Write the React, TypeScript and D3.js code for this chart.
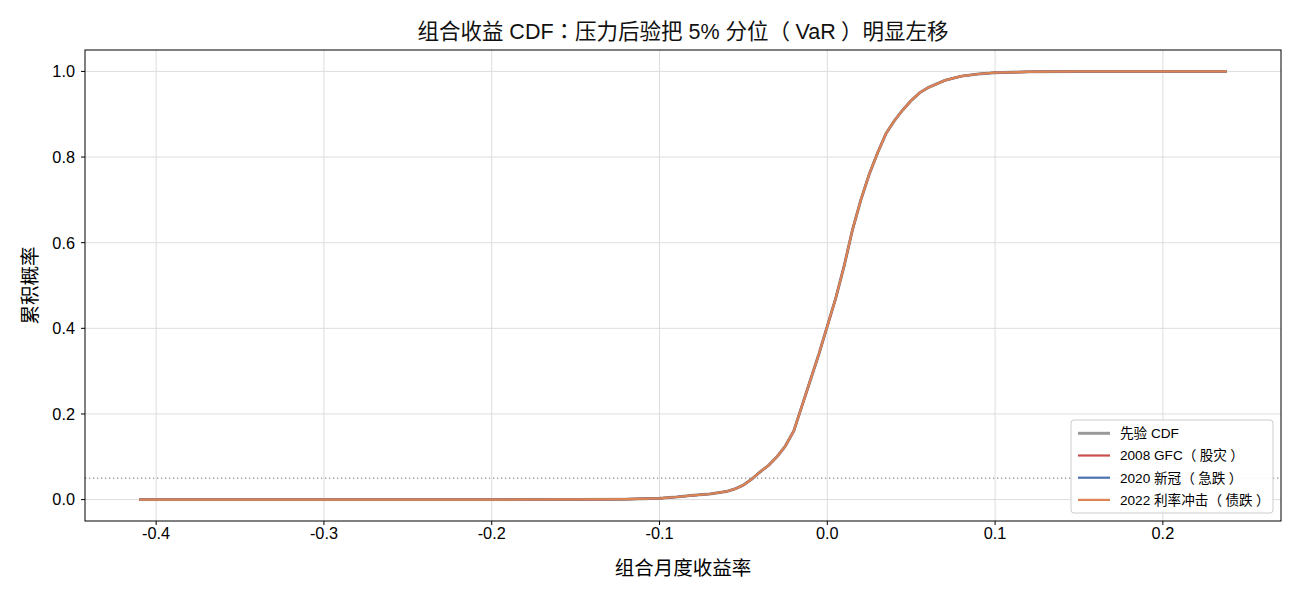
import React from 'react';
import * as d3 from 'd3';

// monthly portfolio return grid (x) and cumulative probability
const returns = [
  -0.41, -0.3, -0.2, -0.15, -0.12, -0.1, -0.09, -0.08, -0.07, -0.06, -0.055, -0.05,
  -0.045, -0.04, -0.035, -0.03, -0.025, -0.02, -0.015, -0.01, -0.005, 0.0, 0.005,
  0.01, 0.015, 0.02, 0.025, 0.03, 0.035, 0.04, 0.045, 0.05, 0.055, 0.06, 0.07, 0.08,
  0.09, 0.1, 0.12, 0.15, 0.2, 0.238,
];

const priorCdf = [
  0, 0, 0, 0.0005, 0.001, 0.003, 0.006, 0.01, 0.013, 0.019, 0.025, 0.034,
  0.048, 0.065, 0.08, 0.1, 0.125, 0.16, 0.22, 0.28, 0.34, 0.405, 0.47,
  0.545, 0.63, 0.7, 0.76, 0.81, 0.855, 0.885, 0.91, 0.932, 0.95, 0.962, 0.979, 0.989,
  0.994, 0.997, 0.999, 1.0, 1.0, 1.0,
];

// the stressed posteriors sit on top of the prior at this scale
const gfc2008Cdf = [...priorCdf];
const covid2020Cdf = [...priorCdf];
const rates2022Cdf = [...priorCdf];

const seriesNames = ['先验 CDF', '2008 GFC（股灾）', '2020 新冠（急跌）', '2022 利率冲击（债跌）'];
const seriesColors = ['#999999', '#c9504f', '#4c72b0', '#dd8452'];
const seriesWidths = [3, 2.2, 2.2, 2.2];
const seriesValues = [priorCdf, gfc2008Cdf, covid2020Cdf, rates2022Cdf];

const xTicks = [-0.4, -0.3, -0.2, -0.1, 0.0, 0.1, 0.2];
const yTicks = [0.0, 0.2, 0.4, 0.6, 0.8, 1.0];
const varLevel = 0.05;

const W = 1300;
const H = 598;
const margin = { top: 50, right: 19, bottom: 77, left: 85 };
const FONT = '"Liberation Sans", Arial, "Noto Sans CJK SC", sans-serif';
const PUNCT_FONT = '"Noto Sans CJK TC", "Noto Sans CJK JP", sans-serif';

// full-width punctuation gets some air on both sides, like the original
const Label: React.FC<{ text: string }> = ({ text }) => {
  const parts = text.split(/([（）：])/).filter((p) => p.length > 0);
  let gap = 0;
  return (
    <>
      {parts.map((p, i) => {
        let dx = gap;
        gap = 0;
        if (p === '（') gap = 0.25;
        if (p === '）') dx += 0.25;
        const punct = /[（）：]/.test(p);
        return (
          <tspan key={i} dx={dx ? `${dx}em` : undefined} fontFamily={punct ? PUNCT_FONT : undefined}>
            {p}
          </tspan>
        );
      })}
    </>
  );
};

export default function App() {
  const iw = W - margin.left - margin.right;
  const ih = H - margin.top - margin.bottom;

  const xmin = d3.min(returns)!;
  const xmax = d3.max(returns)!;
  const pad = (xmax - xmin) * 0.05;
  const x = d3.scaleLinear().domain([xmin - pad, xmax + pad]).range([0, iw]);
  const y = d3.scaleLinear().domain([-0.05, 1.05]).range([ih, 0]);

  const line = d3
    .line<number>()
    .x((_, i) => x(returns[i]))
    .y((d) => y(d));

  const fmt = (v: number) => d3.format('.1f')(v).replace('−', '-');

  return (
    <svg
      width={W}
      height={H}
      style={{ position: 'absolute', left: 0, top: 0, background: '#fff' }}
      fontFamily={FONT}
    >
      <text x={margin.left + iw / 2} y={39} textAnchor="middle" fontSize={21.5} fill="#111">
        <Label text="组合收益 CDF：压力后验把 5% 分位（VaR）明显左移" />
      </text>
      <g transform={`translate(${margin.left},${margin.top})`}>
        {/* grid */}
        {xTicks.map((t) => (
          <line key={'gx' + t} x1={x(t)} x2={x(t)} y1={0} y2={ih} stroke="#dddddd" strokeWidth={1} />
        ))}
        {yTicks.map((t) => (
          <line key={'gy' + t} x1={0} x2={iw} y1={y(t)} y2={y(t)} stroke="#dddddd" strokeWidth={1} />
        ))}

        {/* 5% level */}
        <line
          x1={0}
          x2={iw}
          y1={y(varLevel)}
          y2={y(varLevel)}
          stroke="#888"
          strokeWidth={1.2}
          strokeDasharray="1.3,2.7"
        />

        {seriesValues.map((vals, i) => (
          <path
            key={seriesNames[i]}
            d={line(vals) ?? ''}
            fill="none"
            stroke={seriesColors[i]}
            strokeWidth={seriesWidths[i]}
            strokeLinejoin="round"
          />
        ))}

        {/* frame */}
        <rect x={0} y={0} width={iw} height={ih} fill="none" stroke="#000" strokeWidth={1} />

        {/* x axis */}
        {xTicks.map((t) => (
          <g key={'tx' + t} transform={`translate(${x(t)},${ih})`}>
            <line y1={0} y2={4} stroke="#000" />
            <text y={18} textAnchor="middle" fontSize={16.3} fill="#000">
              {fmt(t)}
            </text>
          </g>
        ))}
        {/* y axis */}
        {yTicks.map((t) => (
          <g key={'ty' + t} transform={`translate(0,${y(t)})`}>
            <line x1={0} x2={-4} stroke="#000" />
            <text x={-10} dy="0.36em" textAnchor="end" fontSize={16.3} fill="#000">
              {fmt(t)}
            </text>
          </g>
        ))}

        <text x={iw / 2} y={ih + 54} textAnchor="middle" fontSize={19.5} fill="#000">
          组合月度收益率
        </text>
        <text
          transform={`translate(${-48.5},${ih / 2}) rotate(-90)`}
          textAnchor="middle"
          fontSize={19.5}
          fill="#000"
        >
          累积概率
        </text>

        {/* legend */}
        <g transform={`translate(${iw - 210},${ih - 101})`}>
          <rect x={0} y={0} width={202} height={93} rx={3} fill="#fff" fillOpacity={0.9} stroke="#cccccc" />
          {seriesNames.map((name, i) => (
            <g key={'lg' + name} transform={`translate(0,${13.3 + i * 22.2})`}>
              <line x1={7} x2={39} y1={0} y2={0} stroke={seriesColors[i]} strokeWidth={seriesWidths[i]} />
              <text x={49} dy="0.36em" fontSize={13.6} fill="#000">
                <Label text={name} />
              </text>
            </g>
          ))}
        </g>
      </g>
    </svg>
  );
}
